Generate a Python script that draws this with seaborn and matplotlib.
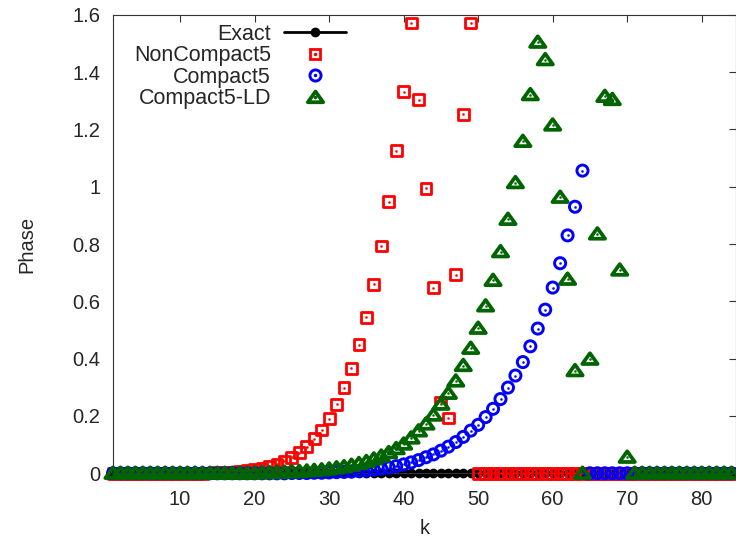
import numpy as np
import pandas as pd
import matplotlib
matplotlib.use("Agg")
import matplotlib.pyplot as plt
from matplotlib.path import Path
from matplotlib.legend_handler import HandlerTuple
from matplotlib.lines import Line2D
import seaborn as sns

# wavenumbers
k = list(range(1, 85))

# phase of each scheme at every wavenumber
exact_phase = [0.0] * 84

noncompact5 = [
    0, 0, 0, 0, 0, 0, 0, 0, 0, 0,
    0, 0, 0, 0.001, 0.002, 0.003, 0.004, 0.006, 0.009, 0.012,
    0.017, 0.023, 0.031, 0.042, 0.056, 0.072, 0.093, 0.120, 0.151, 0.191,
    0.241, 0.299, 0.367, 0.448, 0.545, 0.659, 0.793, 0.947, 1.126, 1.331,
    1.571, 1.303, 0.994, 0.647, 0.248, 0.193, 0.693, 1.253, 1.571, 0,
    0, 0, 0, 0, 0, 0, 0, 0, 0, 0,
    0, 0, 0, 0, 0, 0, 0, 0, 0, 0,
    0, 0, 0, 0, 0, 0, 0, 0, 0, 0,
    0, 0, 0, 0,
]

compact5 = [
    0, 0, 0, 0, 0, 0, 0, 0, 0, 0,
    0, 0, 0, 0, 0, 0, 0, 0, 0, 0,
    0, 0, 0, 0, 0.001, 0.001, 0.001, 0.002, 0.002, 0.003,
    0.004, 0.005, 0.006, 0.008, 0.010, 0.013, 0.016, 0.020, 0.025, 0.031,
    0.038, 0.046, 0.056, 0.066, 0.079, 0.093, 0.109, 0.127, 0.149, 0.169,
    0.196, 0.225, 0.259, 0.299, 0.341, 0.388, 0.443, 0.505, 0.571, 0.648,
    0.733, 0.830, 0.930, 1.056, 0, 0, 0, 0, 0, 0,
    0, 0, 0, 0, 0, 0, 0, 0, 0, 0,
    0, 0, 0, 0,
]

compact5_ld = [
    0, 0, 0, 0, 0, 0, 0, 0, 0, 0,
    0, 0, 0, 0, 0, 0, 0, 0, 0, 0.001,
    0.002, 0.002, 0.003, 0.004, 0.005, 0.006, 0.008, 0.010, 0.012, 0.015,
    0.019, 0.023, 0.028, 0.034, 0.041, 0.050, 0.060, 0.072, 0.086, 0.102,
    0.123, 0.148, 0.172, 0.203, 0.241, 0.279, 0.322, 0.376, 0.436, 0.506,
    0.584, 0.673, 0.773, 0.886, 1.014, 1.158, 1.321, 1.504, 1.443, 1.215,
    0.963, 0.677, 0.358, 0.0, 0.398, 0.835, 1.315, 1.304, 0.709, 0.056,
    0, 0, 0, 0, 0, 0, 0, 0, 0, 0,
    0, 0, 0, 0,
]

labels = ["Exact", "NonCompact5", "Compact5", "Compact5-LD"]
colors = ["black", "#ff0000", "#0000ff", "#006400"]
x_ticks = [10, 20, 30, 40, 50, 60, 70, 80]
y_ticks = [0, 0.2, 0.4, 0.6, 0.8, 1, 1.2, 1.4, 1.6]
y_tick_labels = ["0", "0.2", "0.4", "0.6", "0.8", "1", "1.2", "1.4", "1.6"]

df = pd.DataFrame({
    "k": k,
    "Exact": exact_phase,
    "NonCompact5": noncompact5,
    "Compact5": compact5,
    "Compact5-LD": compact5_ld,
})

sns.set_style("white")
plt.rcParams["font.family"] = ["Liberation Sans", "DejaVu Sans"]

fig = plt.figure(figsize=(7.36, 5.40), dpi=100)
ax = fig.add_axes([113 / 736, 1 - 473.3 / 540, 623 / 736, (473.3 - 14.7) / 540])

# flattened triangle outline
tri = Path([(-1.0, -0.62), (1.0, -0.62), (0.0, 0.78), (-1.0, -0.62)],
           [Path.MOVETO, Path.LINETO, Path.LINETO, Path.CLOSEPOLY])

# exact solution: line with filled dots
sns.lineplot(data=df, x="k", y="Exact", ax=ax, color=colors[0], lw=2.0,
             marker="o", markersize=7, markeredgewidth=0, clip_on=False,
             zorder=2, label=None, legend=False)

series = [
    ("NonCompact5", colors[1], "s", 7.8, 2.0),
    ("Compact5", colors[2], "o", 8.0, 2.1),
    ("Compact5-LD", colors[3], tri, 11.0, 2.7),
]
handles = []
for z, (name, col, mk, ms, mew) in enumerate(series):
    sns.scatterplot(data=df, x="k", y=name, ax=ax, marker=mk, s=ms ** 2,
                    facecolor="none", edgecolor=col, color=col, linewidth=mew,
                    clip_on=False, zorder=3 + z, legend=False)
    sns.scatterplot(data=df, x="k", y=name, ax=ax, marker="o", s=2.2,
                    color=col, edgecolor=col, linewidth=0.3,
                    clip_on=False, zorder=3 + z, legend=False)
    outer = Line2D([], [], ls="none", marker=mk, markersize=ms,
                   markerfacecolor="none", markeredgecolor=col, markeredgewidth=mew)
    dot = Line2D([], [], ls="none", marker="o", markersize=1.5,
                 markerfacecolor=col, markeredgecolor=col)
    handles.append((outer, dot))

exact_handle = Line2D([], [], color="black", lw=2.0, marker="o", markersize=7,
                      markeredgewidth=0)

ax.set_xlim(1, 84.6)
ax.set_ylim(0, 1.6)
ax.set_xticks(x_ticks)
ax.set_yticks(y_ticks)
ax.set_yticklabels(y_tick_labels)
ax.tick_params(axis="both", direction="in", length=5, width=0.8, color="#333333",
               labelsize=14.5, top=True, right=True)
ax.tick_params(axis="x", pad=12)
ax.tick_params(axis="y", pad=9)
for sp in ax.spines.values():
    sp.set_linewidth(0.8)
    sp.set_color("#333333")

ax.set_xlabel("k", fontsize=14.5)
ax.set_ylabel("Phase", fontsize=14.5)
ax.xaxis.label.set_verticalalignment("center")
ax.yaxis.label.set_verticalalignment("center")
ax.xaxis.set_label_coords((425 - 113) / 623, (473.3 - 529) / 458.6)
ax.yaxis.set_label_coords((27 - 113) / 623, 0.5)

leg = fig.legend([exact_handle] + handles, labels, loc="upper right",
                 bbox_to_anchor=(357 / 736, 1 - 13 / 540), frameon=False,
                 markerfirst=False, fontsize=15.5, handlelength=2.9,
                 handletextpad=0.6, labelspacing=0.02, borderpad=0,
                 handler_map={tuple: HandlerTuple(ndivide=1)})

fig.savefig("out.png", dpi=100)
